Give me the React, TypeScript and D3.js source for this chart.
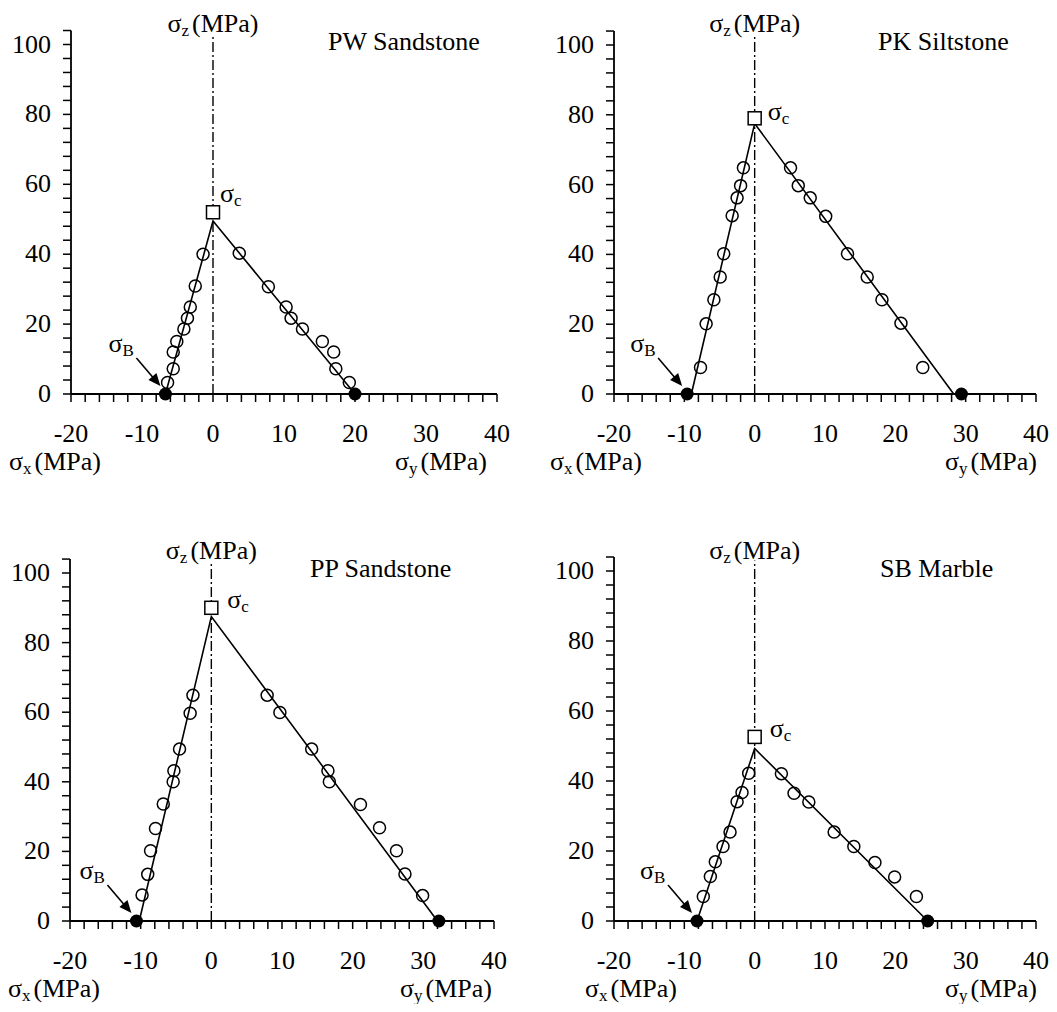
import * as d3 from 'd3'

// [sigma_x or sigma_y, sigma_z] pairs in MPa
const pwLeft = [[-1.4, 40], [-2.5, 30.9], [-3.2, 24.9], [-3.6, 21.7], [-4.1, 18.6], [-5.1, 15], [-5.6, 12], [-5.6, 7.2], [-6.4, 3.3]]
const pwRight = [[3.7, 40.3], [7.8, 30.7], [10.3, 24.9], [11.0, 21.7], [12.6, 18.6], [15.4, 15], [17.0, 12], [17.3, 7.2], [19.2, 3.3]]
const pkLeft = [[-1.6, 64.8], [-2.0, 59.7], [-2.5, 56.2], [-3.2, 51.1], [-4.4, 40.2], [-4.9, 33.5], [-5.8, 27], [-6.9, 20.1], [-7.7, 7.6]]
const pkRight = [[5.1, 64.8], [6.2, 59.7], [7.9, 56.2], [10.1, 50.9], [13.2, 40.2], [16.0, 33.5], [18.1, 27], [20.8, 20.3], [23.9, 7.6]]
const ppLeft = [[-2.6, 64.9], [-3.0, 59.7], [-4.5, 49.4], [-5.3, 43.2], [-5.4, 40], [-6.8, 33.6], [-7.9, 26.6], [-8.6, 20.2], [-9.0, 13.4], [-9.8, 7.5]]
const ppRight = [[7.9, 64.9], [9.7, 59.9], [14.2, 49.4], [16.5, 43.2], [16.7, 40], [21.1, 33.5], [23.8, 26.8], [26.2, 20.2], [27.4, 13.5], [29.9, 7.3]]
const sbLeft = [[-0.85, 42.2], [-1.8, 36.7], [-2.5, 34.1], [-3.5, 25.4], [-4.5, 21.3], [-5.6, 16.9], [-6.3, 12.7], [-7.3, 7]]
const sbRight = [[3.8, 42.1], [5.6, 36.5], [7.7, 34], [11.3, 25.4], [14.1, 21.3], [17.1, 16.7], [19.9, 12.6], [23.0, 7.0]]

// uniaxial compressive strength (square), apex of fitted lines, tensile (sigma_B) and sigma_y at failure
const titles = ['PW Sandstone', 'PK Siltstone', 'PP Sandstone', 'SB Marble']
const sigmaC = [52, 79, 90, 52.6]
const apexZ = [49.5, 77.5, 87.5, 49.3]
const sigmaB = [-6.7, -9.6, -10.6, -8.2]
const sigmaYf = [20, 29.4, 32.2, 24.6]
const fitLeftX = [-6.7, -9.0, -10.2, -8.2]
const fitRightX = [20, 28.3, 32, 24.6]

const xTicks = [-20, -10, 0, 10, 20, 30, 40]
const zTicks = [0, 20, 40, 60, 80, 100]

const FONT = 'Liberation Serif, Times New Roman, serif'
const FS = 26

// pixel frame of each panel
const frames = [
  { x0: 71, x1: 497, y0: 394, y1: 44.5, title: 328, sc: [7, -10], sxStart: 9, syEnd: 487 },
  { x0: 614, x1: 1036, y0: 394, y1: 45, title: 878, sc: [13, 2], sxStart: 550, syEnd: 1037 },
  { x0: 70, x1: 494, y0: 921, y1: 573, title: 310, sc: [16, 0], sxStart: 8, syEnd: 492 },
  { x0: 614, x1: 1036, y0: 921, y1: 571, title: 880, sc: [15, 0], sxStart: 585, syEnd: 1037 },
]
const pointSets = [[pwLeft, pwRight], [pkLeft, pkRight], [ppLeft, ppRight], [sbLeft, sbRight]]

function Sigma({ x, y, sub, anchor = 'start', rest = '' }) {
  return (
    <text x={x} y={y} textAnchor={anchor} fontFamily={FONT} fontSize={FS}>
      σ<tspan fontSize={17} dy={4}>{sub}</tspan>
      {rest && <tspan dy={-4} dx={3}>{rest}</tspan>}
    </text>
  )
}

function Panel({ i }) {
  const f = frames[i]
  const x = d3.scaleLinear().domain([-20, 40]).range([f.x0, f.x1])
  const y = d3.scaleLinear().domain([0, 100]).range([f.y0, f.y1])
  const [left, right] = pointSets[i]
  const line = d3.line().x(d => x(d[0])).y(d => y(d[1]))
  const fit = [[fitLeftX[i], 0], [0, apexZ[i]], [fitRightX[i], 0]]
  const minorX = d3.range(-20, 40.01, 2)
  const minorZ = d3.range(0, 104.01, 4)
  const bx = x(sigmaB[i])
  const by = y(0)
  return (
    <g>
      {/* axes */}
      <line x1={x(-20)} x2={x(40)} y1={y(0)} y2={y(0)} stroke="#000" strokeWidth={1.8} />
      <line x1={x(-20)} x2={x(-20)} y1={y(0)} y2={y(104)} stroke="#000" strokeWidth={1.8} />
      {minorX.map(t => (
        <line key={'tx' + t} x1={x(t)} x2={x(t)} y1={y(0)} y2={y(0) + 8} stroke="#000" strokeWidth={1.5} />
      ))}
      {minorZ.map(t => (
        <line key={'tz' + t} x1={x(-20) - 8} x2={x(-20)} y1={y(t)} y2={y(t)} stroke="#000" strokeWidth={1.5} />
      ))}
      {xTicks.map(t => (
        <text key={'lx' + t} x={x(t)} y={y(0) + 48} textAnchor="middle" fontFamily={FONT} fontSize={FS}>{t}</text>
      ))}
      {zTicks.map(t => (
        <text key={'lz' + t} x={x(-20) - 20} y={y(t) + 8} textAnchor="end" fontFamily={FONT} fontSize={FS}>{t}</text>
      ))}
      {/* sigma_z axis at x = 0 */}
      <line x1={x(0)} x2={x(0)} y1={y(0)} y2={y(103)} stroke="#000" strokeWidth={1.4} strokeDasharray="10,3,2,3" />
      <Sigma x={x(0)} y={y(0) - 362} sub="z" anchor="middle" rest="(MPa)" />
      <text x={f.title} y={y(0) - 344} fontFamily={FONT} fontSize={FS}>{titles[i]}</text>
      <Sigma x={f.sxStart} y={y(0) + 76} sub="x" rest="(MPa)" />
      <Sigma x={f.syEnd} y={y(0) + 76} sub="y" anchor="end" rest="(MPa)" />
      {/* fitted lines */}
      <path d={line(fit)} fill="none" stroke="#000" strokeWidth={1.6} />
      {/* test points */}
      {left.concat(right).map((d, k) => (
        <circle key={k} cx={x(d[0])} cy={y(d[1])} r={6} fill="none" stroke="#000" strokeWidth={1.5} />
      ))}
      <rect x={x(0) - 6.5} y={y(sigmaC[i]) - 6.5} width={13} height={13} fill="#fff" stroke="#000" strokeWidth={1.5} />
      <Sigma x={x(0) + f.sc[0]} y={y(sigmaC[i]) + f.sc[1]} sub="c" />
      <circle cx={bx} cy={by} r={6.5} fill="#000" />
      <circle cx={x(sigmaYf[i])} cy={by} r={6.5} fill="#000" />
      {/* sigma_B pointer */}
      <Sigma x={bx - 57} y={by - 42} sub="B" />
      <line x1={bx - 29} y1={by - 36} x2={bx - 12} y2={by - 16} stroke="#000" strokeWidth={1.6} />
      <path d={`M${bx - 5},${by - 8} L${bx - 17},${by - 14} L${bx - 9},${by - 21} Z`} fill="#000" />
    </g>
  )
}

export default function App() {
  return (
    <svg width={1057} height={1012} style={{ display: 'block', margin: -8 }}>
      <rect width={1057} height={1012} fill="#fff" />
      {frames.map((_, i) => <Panel key={i} i={i} />)}
    </svg>
  )
}
